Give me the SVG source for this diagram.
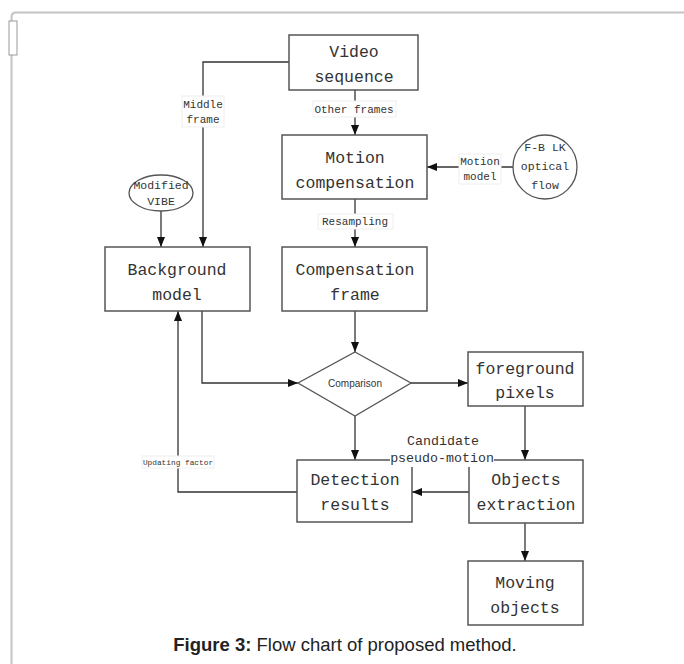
<svg xmlns="http://www.w3.org/2000/svg" width="684" height="664" viewBox="0 0 684 664">
<style>
.frame{fill:none;stroke:#c4c4c4;stroke-width:2}
.box{fill:#fff;stroke:#555;stroke-width:1.5}
.t{font-family:"Liberation Mono","DejaVu Sans Mono",monospace;font-size:16.5px;fill:#333;text-anchor:middle}
.s{font-family:"Liberation Mono","DejaVu Sans Mono",monospace;font-size:11px;fill:#333;text-anchor:middle}
.lb{fill:#fff;stroke:#eee;stroke-width:1}
.c{fill:none;stroke:#333;stroke-width:1.3}
</style>
<defs>
<marker id="ah" viewBox="0 0 10 10" refX="10" refY="5" markerWidth="10" markerHeight="10" markerUnits="userSpaceOnUse" orient="auto">
<path d="M0,1 L10,5 L0,9 Z" fill="#111"/>
</marker>
</defs>
<rect width="684" height="664" fill="#fff"/>
<path class="frame" d="M11.5,664 V17 Q11.5,12.5 16,12.5 H684"/>
<rect x="9" y="21" width="8" height="34" fill="#fff" stroke="#999" stroke-width="1"/>

<g id="connectors">
<path class="c" d="M289,62 H203 V247" marker-end="url(#ah)"/>
<path class="c" d="M355,90 V135" marker-end="url(#ah)"/>
<path class="c" d="M161,211 V247" marker-end="url(#ah)"/>
<path class="c" d="M513,167 H427" marker-end="url(#ah)"/>
<path class="c" d="M355,199 V247" marker-end="url(#ah)"/>
<path class="c" d="M355,311 V352" marker-end="url(#ah)"/>
<path class="c" d="M202,311 V383 H298" marker-end="url(#ah)"/>
<path class="c" d="M411,383 H468" marker-end="url(#ah)"/>
<path class="c" d="M355,416 V460" marker-end="url(#ah)"/>
<path class="c" d="M525,406 V460" marker-end="url(#ah)"/>
<path class="c" d="M469,492 H412" marker-end="url(#ah)"/>
<path class="c" d="M297,492 H178 V311" marker-end="url(#ah)"/>
<path class="c" d="M525,523 V561" marker-end="url(#ah)"/>
</g>

<g id="video-sequence">
<rect class="box" x="289" y="35" width="129" height="55"/>
<text class="t" x="354" y="57">Video</text>
<text class="t" x="354" y="82">sequence</text>
</g>
<g id="motion-compensation">
<rect class="box" x="282" y="135" width="145" height="64"/>
<text class="t" x="355" y="163">Motion</text>
<text class="t" x="355" y="188">compensation</text>
</g>
<g id="fb-lk">
<circle cx="545" cy="167" r="32" fill="#fff" stroke="#555" stroke-width="1.3"/>
<text class="s" x="545" y="151" style="font-size:11.5px">F-B LK</text>
<text class="s" x="545" y="170" style="font-size:11.5px">optical</text>
<text class="s" x="545" y="189" style="font-size:11.5px">flow</text>
</g>
<g id="modified-vibe">
<ellipse cx="161" cy="193" rx="32" ry="18" fill="#fff" stroke="#555" stroke-width="1.3"/>
<text class="s" x="161" y="189" style="font-size:11.5px">Modified</text>
<text class="s" x="161" y="205" style="font-size:11.5px">VIBE</text>
</g>
<g id="background-model">
<rect class="box" x="105" y="247" width="145" height="64"/>
<text class="t" x="177" y="275">Background</text>
<text class="t" x="177" y="300">model</text>
</g>
<g id="compensation-frame">
<rect class="box" x="282" y="247" width="145" height="64"/>
<text class="t" x="355" y="275">Compensation</text>
<text class="t" x="355" y="300">frame</text>
</g>
<g id="comparison">
<polygon points="355,352 411,383 355,416 298,383" fill="#fff" stroke="#555" stroke-width="1.3"/>
<text x="355" y="387" style="font-family:'Liberation Sans',Arial,sans-serif;font-size:10px;fill:#333;text-anchor:middle">Comparison</text>
</g>
<g id="foreground-pixels">
<rect class="box" x="468" y="352" width="115" height="54"/>
<text class="t" x="525" y="374">foreground</text>
<text class="t" x="525" y="398">pixels</text>
</g>
<g id="detection-results">
<rect class="box" x="297" y="460" width="115" height="62"/>
<text class="t" x="355" y="485">Detection</text>
<text class="t" x="355" y="510">results</text>
</g>
<g id="objects-extraction">
<rect class="box" x="469" y="460" width="114" height="63"/>
<text class="t" x="526" y="485">Objects</text>
<text class="t" x="526" y="510">extraction</text>
</g>
<g id="moving-objects">
<rect class="box" x="468" y="561" width="115" height="64"/>
<text class="t" x="525" y="588">Moving</text>
<text class="t" x="525" y="613">objects</text>
</g>

<g id="labels">
<rect class="lb" x="313" y="101" width="83" height="16"/>
<text class="s" x="354" y="113">Other frames</text>
<rect class="lb" x="182" y="96" width="42" height="31"/>
<text class="s" x="203" y="108">Middle</text>
<text class="s" x="203" y="123">frame</text>
<rect class="lb" x="318" y="214" width="75" height="15"/>
<text class="s" x="355" y="225">Resampling</text>
<rect class="lb" x="459" y="154" width="42" height="30"/>
<text class="s" x="480" y="165">Motion</text>
<text class="s" x="480" y="180">model</text>
<rect class="lb" x="142" y="456" width="72" height="12"/>
<text class="s" x="178" y="465" style="font-size:7.8px">Updating factor</text>
<rect x="390" y="430" width="104" height="37" fill="#fff"/>
<text class="s" x="443" y="445" style="font-size:13.3px">Candidate</text>
<text class="s" x="442" y="462" style="font-size:13.3px">pseudo-motion</text>
</g>

<text x="345" y="651" style="font-family:'Liberation Sans',Arial,sans-serif;font-size:18.5px;fill:#222;text-anchor:middle"><tspan font-weight="bold">Figure 3:</tspan> Flow chart of proposed method.</text>
</svg>
